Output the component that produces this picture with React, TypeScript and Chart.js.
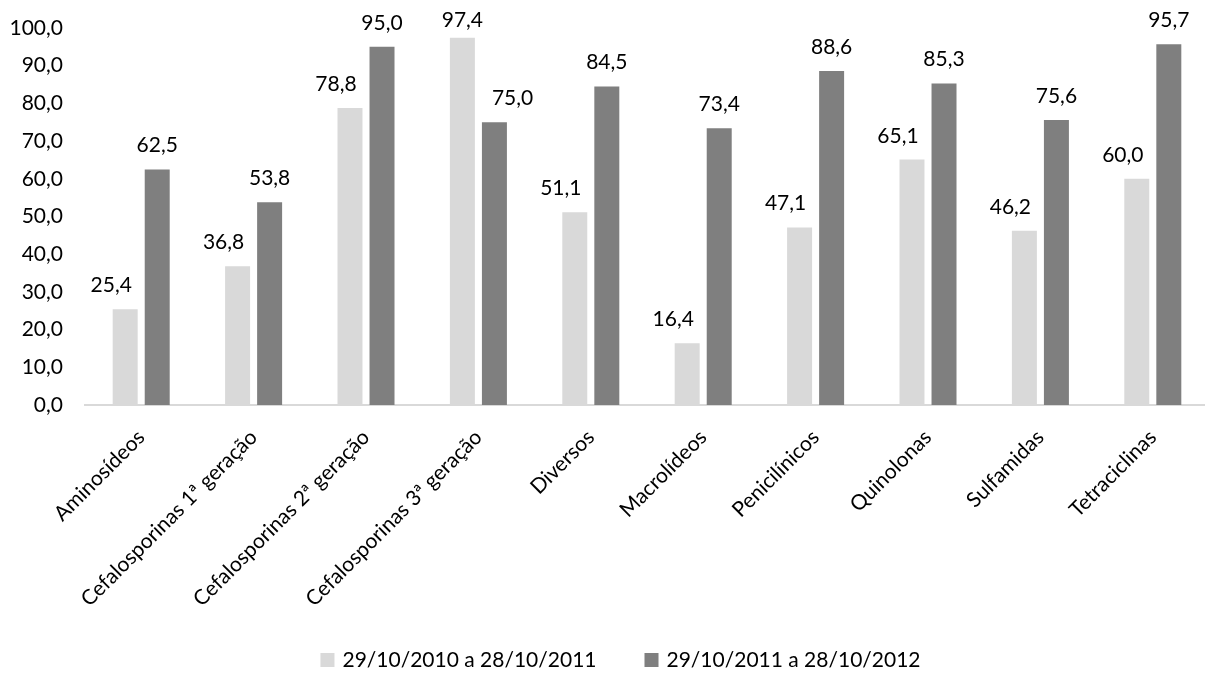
import React, { useEffect, useRef } from "react";
import { Chart, registerables } from "chart.js";

Chart.register(...registerables);

// Antibiotic classes on the category axis
const categories = [
  "Aminosídeos",
  "Cefalosporinas 1ª geração",
  "Cefalosporinas 2ª geração",
  "Cefalosporinas 3ª geração",
  "Diversos",
  "Macrolídeos",
  "Penicilínicos",
  "Quinolonas",
  "Sulfamidas",
  "Tetraciclinas",
];

// Two reporting periods
const seriesNames = ["29/10/2010 a 28/10/2011", "29/10/2011 a 28/10/2012"];
const period2010 = [25.4, 36.8, 78.8, 97.4, 51.1, 16.4, 47.1, 65.1, 46.2, 60.0];
const period2011 = [62.5, 53.8, 95.0, 75.0, 84.5, 73.4, 88.6, 85.3, 75.6, 95.7];

// Value axis ticks: 0,0 … 100,0
const yMin = 0;
const yMax = 100;
const yStep = 10;

const FONT_FAMILY = "Lato";
const FONT_SIZE = 21;
const TEXT_COLOR = "#000000";
const LIGHT = "#d9d9d9";
const DARK = "#7f7f7f";

const fmt = (v: number) => v.toFixed(1).replace(".", ",");

// Value labels above each bar; labels are nudged sideways when the
// neighbouring bar of the same category is taller.
const valueLabels = {
  id: "valueLabels",
  afterDatasetsDraw(chart: any) {
    const ctx = chart.ctx;
    ctx.save();
    ctx.font = `${FONT_SIZE}px ${FONT_FAMILY}`;
    ctx.fillStyle = TEXT_COLOR;
    ctx.textAlign = "center";
    ctx.textBaseline = "alphabetic";
    const m0 = chart.getDatasetMeta(0);
    const m1 = chart.getDatasetMeta(1);
    chart.data.datasets.forEach((ds: any, di: number) => {
      const meta = chart.getDatasetMeta(di);
      meta.data.forEach((bar: any, i: number) => {
        const v = ds.data[i] as number;
        const text = fmt(v);
        const w = ctx.measureText(text).width;
        let x = bar.x;
        const y = Math.max(bar.y - 17, 27);
        if (di === 0) {
          const other = m1.data[i];
          if (other.y < bar.y) x -= 14;
        } else {
          const other = m0.data[i];
          if (other.y < bar.y) {
            const otherRight = other.x + other.width / 2;
            x = Math.max(x, otherRight + 17 + w / 2);
          }
        }
        ctx.fillText(text, x, y);
      });
    });
    ctx.restore();
  },
};

// Legend row below the axis labels
const bottomLegend = {
  id: "bottomLegend",
  afterDraw(chart: any) {
    const ctx = chart.ctx;
    ctx.save();
    ctx.font = `${FONT_SIZE}px ${FONT_FAMILY}`;
    const box = 14;
    const gapText = 8;
    const gapItem = 48;
    const items = chart.data.datasets.map((d: any) => ({
      label: d.label as string,
      color: d.backgroundColor as string,
      w: ctx.measureText(d.label).width,
    }));
    const total =
      items.reduce((s: number, it: any) => s + box + gapText + it.w, 0) +
      gapItem * (items.length - 1);
    let x = 620.5 - total / 2;
    const cy = 660;
    ctx.textBaseline = "middle";
    ctx.textAlign = "left";
    items.forEach((it: any) => {
      ctx.fillStyle = it.color;
      ctx.fillRect(x, cy - box / 2, box, box);
      x += box + gapText;
      ctx.fillStyle = TEXT_COLOR;
      ctx.fillText(it.label, x, cy);
      x += it.w + gapItem;
    });
    ctx.restore();
  },
};

export default function App() {
  const canvasRef = useRef<HTMLCanvasElement | null>(null);

  useEffect(() => {
    if (!canvasRef.current) return;
    const font = { family: FONT_FAMILY, size: FONT_SIZE };
    const chart = new Chart(canvasRef.current, {
      type: "bar",
      data: {
        labels: categories,
        datasets: [
          {
            label: seriesNames[0],
            data: period2010,
            backgroundColor: LIGHT,
            categoryPercentage: 0.57,
            barPercentage: 0.78,
          },
          {
            label: seriesNames[1],
            data: period2011,
            backgroundColor: DARK,
            categoryPercentage: 0.57,
            barPercentage: 0.78,
          },
        ],
      },
      options: {
        responsive: false,
        animation: false,
        devicePixelRatio: 1,
        layout: { padding: { left: 0, right: 0, top: 28, bottom: 0 } },
        plugins: {
          legend: { display: false },
          tooltip: { enabled: false },
        },
        scales: {
          x: {
            grid: { display: false, drawTicks: false },
            border: { display: true, color: LIGHT, width: 2 },
            ticks: {
              autoSkip: false,
              minRotation: 45,
              maxRotation: 45,
              padding: 20,
              color: TEXT_COLOR,
              font,
            },
            afterFit: (s: any) => {
              s.height = 268;
            },
          },
          y: {
            min: yMin,
            max: yMax,
            grid: { display: false, drawTicks: false },
            border: { display: false },
            ticks: {
              stepSize: yStep,
              padding: 22,
              color: TEXT_COLOR,
              font,
              callback: (v: any) => fmt(Number(v)),
            },
            afterFit: (s: any) => {
              s.width = 85;
              s.paddingTop = 10;
              s.paddingBottom = 10;
            },
          },
        },
      },
      plugins: [valueLabels, bottomLegend],
    });
    return () => chart.destroy();
  }, []);

  return (
    <div
      style={{
        position: "absolute",
        left: 0,
        top: 0,
        width: 1205,
        height: 673,
        overflow: "hidden",
        background: "#ffffff",
      }}
    >
      <canvas ref={canvasRef} width={1209} height={673} style={{ display: "block" }} />
    </div>
  );
}
